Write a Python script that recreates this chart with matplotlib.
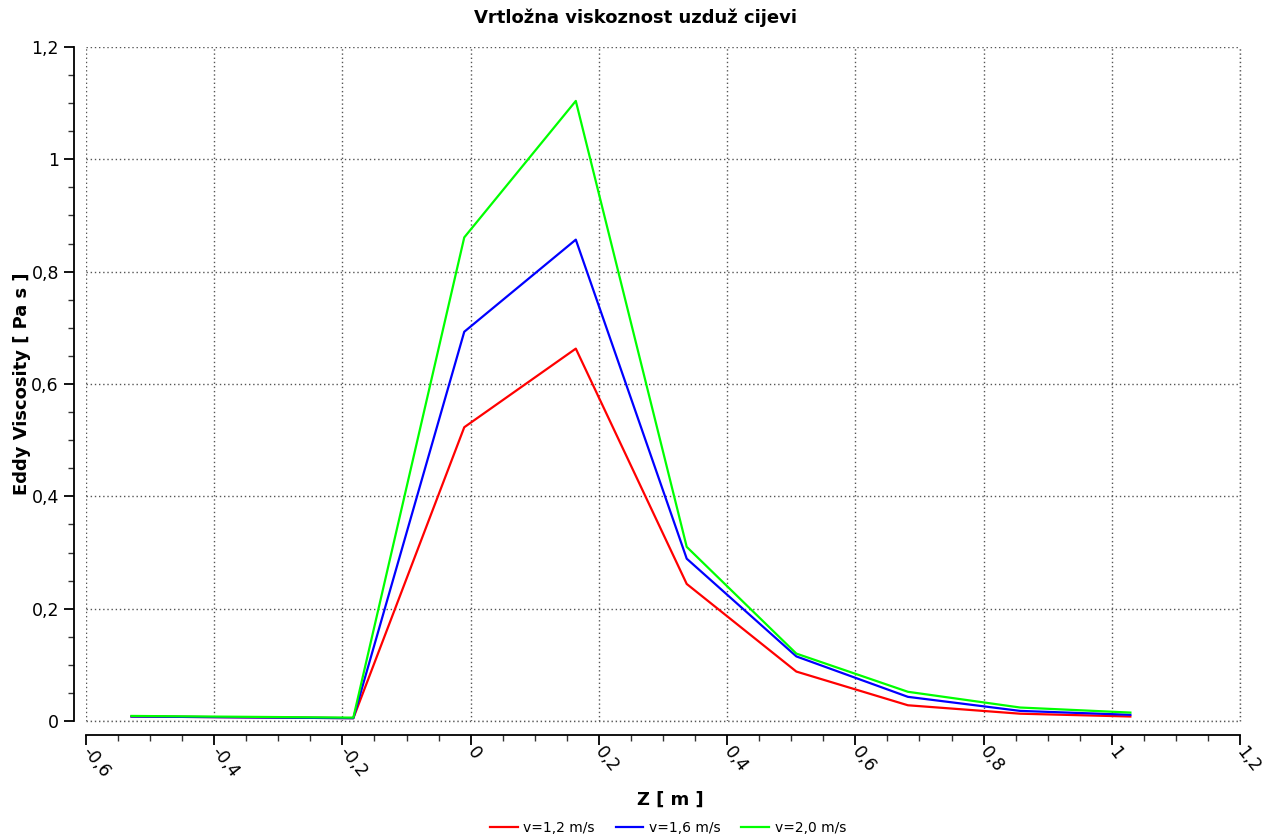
import matplotlib
matplotlib.use("Agg")
import matplotlib.pyplot as plt
from matplotlib.ticker import MultipleLocator, FuncFormatter

# Z positions along the pipe [m]
z = [-0.529, -0.183, -0.010, 0.164, 0.337, 0.508, 0.682, 0.857, 1.029]

# eddy viscosity [Pa s]
visc_12 = [0.008, 0.005, 0.523, 0.663, 0.244, 0.088, 0.028, 0.013, 0.008]
visc_16 = [0.008, 0.005, 0.693, 0.857, 0.289, 0.115, 0.043, 0.018, 0.011]
visc_20 = [0.009, 0.006, 0.861, 1.104, 0.310, 0.120, 0.052, 0.024, 0.015]

labels = ["v=1,2 m/s", "v=1,6 m/s", "v=2,0 m/s"]
colors = ["#ff0000", "#0000ff", "#00ff00"]

x_min, x_max = -0.6, 1.2
y_min, y_max = 0, 1.2


def comma_fmt(v, pos):
    v = round(v, 2)
    if v == 0:
        return "0"
    return ("%g" % v).replace(".", ",")


fig = plt.figure(figsize=(12.71, 8.4), dpi=100)
ax = fig.add_axes([86 / 1271, 1 - 721 / 840, (1240 - 86) / 1271, (721 - 47) / 840])

for vals, lab, c in zip([visc_12, visc_16, visc_20], labels, colors):
    ax.plot(z, vals, color=c, lw=1.6, label=lab, zorder=3)

ax.set_xlim(x_min, x_max)
ax.set_ylim(y_min, y_max)
ax.xaxis.set_major_locator(MultipleLocator(0.2))
ax.xaxis.set_minor_locator(MultipleLocator(0.05))
ax.yaxis.set_major_locator(MultipleLocator(0.2))
ax.yaxis.set_minor_locator(MultipleLocator(0.05))
ax.xaxis.set_major_formatter(FuncFormatter(comma_fmt))
ax.yaxis.set_major_formatter(FuncFormatter(comma_fmt))

grid_style = dict(linestyle=(0, (1, 2)), color="#555555", lw=1.0)
ax.grid(True, which="major", zorder=0, **grid_style)
# edge gridlines get half clipped, redraw them unclipped
ax.axhline(y_min, clip_on=False, zorder=1, **grid_style)
ax.axvline(x_max, clip_on=False, zorder=1, **grid_style)

for s in ["top", "right"]:
    ax.spines[s].set_visible(False)
ax.spines["left"].set_position(("outward", 9))
ax.spines["bottom"].set_position(("outward", 10))
ax.spines["left"].set_linewidth(1.3)
ax.spines["bottom"].set_linewidth(1.3)

ax.tick_params(axis="both", which="major", length=7, width=1.3, labelsize=12.5, direction="out")
ax.tick_params(axis="both", which="minor", length=4, width=1.0, direction="out", color="#333333")
ax.tick_params(axis="x", which="major", pad=3)

for t in ax.get_xticklabels():
    t.set_rotation(-52)
    t.set_rotation_mode("anchor")
    t.set_ha("left")
    t.set_va("center")

fig.text(0.5, 1 - 18 / 840, "Vrtložna viskoznost uzduž cijevi", ha="center", va="center",
         fontsize=13, fontweight="bold")
fig.text(670 / 1271, 1 - 800 / 840, "Z [ m ]", ha="center", va="center",
         fontsize=13, fontweight="bold")
fig.text(22 / 1271, 1 - 384 / 840, "Eddy Viscosity [ Pa s ]", ha="center", va="center",
         rotation=90, fontsize=13, fontweight="bold")

fig.legend(loc="center", bbox_to_anchor=(668 / 1271, 1 - 828 / 840), ncol=3, frameon=False,
           fontsize=10, handlelength=2.0, columnspacing=1.5, handletextpad=0.4)

fig.savefig("out.png", dpi=100)
